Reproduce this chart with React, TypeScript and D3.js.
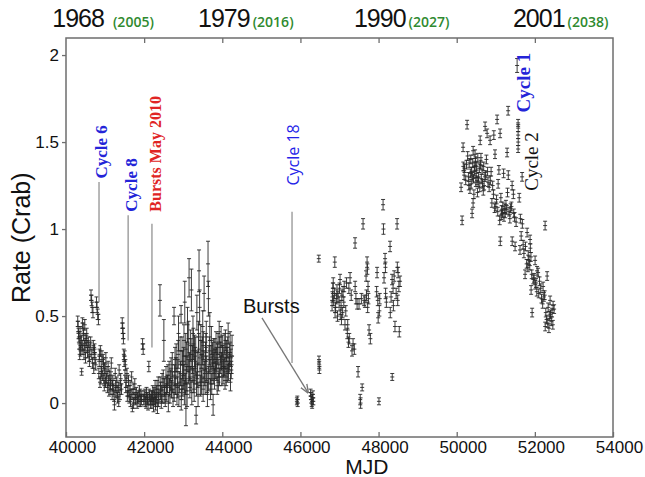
import * as d3 from "d3";
import React, { useEffect, useRef } from "react";

// [MJD, rate (Crab), error]
const early: number[][] = [
  [40300,0.47,0.03],[40310,0.44,0.03],[40320,0.40,0.03],[40330,0.38,0.03],[40340,0.34,0.03],[40350,0.28,0.03],[40360,0.41,0.03],[40370,0.30,0.03],[40380,0.35,0.03],[40390,0.36,0.03],[40400,0.18,0.02],[40410,0.31,0.03],[40420,0.46,0.03],[40430,0.33,0.03],[40440,0.43,0.03],[40450,0.39,0.03],[40460,0.28,0.03],[40470,0.33,0.03],[40480,0.45,0.03],[40490,0.37,0.03],[40500,0.26,0.03],[40510,0.32,0.03],[40520,0.36,0.03],[40530,0.40,0.03],[40550,0.29,0.03],[40560,0.33,0.03],[40570,0.35,0.03],[40590,0.27,0.03],[40600,0.24,0.03],[40610,0.31,0.03],[40630,0.35,0.03],
  [40640,0.62,0.03],[40655,0.59,0.03],[40660,0.28,0.03],[40670,0.55,0.03],[40680,0.23,0.03],[40690,0.52,0.03],[40700,0.33,0.03],[40710,0.20,0.03],[40720,0.29,0.03],[40730,0.31,0.03],[40740,0.26,0.03],[40760,0.22,0.03],[40780,0.58,0.03],[40795,0.55,0.03],[40810,0.51,0.03],[40830,0.48,0.03],[40840,0.17,0.03],[40850,0.24,0.03],[40860,0.28,0.03],[40870,0.12,0.03],[40880,0.30,0.03],[40890,0.14,0.03],[40900,0.21,0.03],[40910,0.18,0.03],[40920,0.27,0.03],[40940,0.16,0.03],[40950,0.25,0.03],[40960,0.23,0.03],[40970,0.14,0.03],[40980,0.10,0.03],[40990,0.20,0.03],
  [41000,0.19,0.03],[41010,0.12,0.03],[41020,0.26,0.03],[41040,0.14,0.03],[41050,0.18,0.03],[41060,0.09,0.03],[41080,0.21,0.03],[41090,0.13,0.03],[41100,0.07,0.03],[41120,0.16,0.03],[41130,0.08,0.03],[41140,0.11,0.03],[41150,0.15,0.03],[41160,0.23,0.03],[41180,0.05,0.03],[41190,0.10,0.03],[41200,0.13,0.03],[41220,0.08,0.03],[41230,0.04,0.03],[41240,-0.01,0.03],[41260,0.17,0.03],[41270,0.10,0.03],[41280,0.06,0.03],[41300,0.12,0.03],[41310,0.07,0.03],[41320,0.03,0.03],[41340,0.09,0.03],[41350,0.01,0.03],[41360,0.19,0.03],[41380,0.05,0.03],[41390,0.10,0.03],[41400,0.14,0.03],[41420,0.08,0.03],
  [41440,0.46,0.03],[41450,0.43,0.03],[41460,0.40,0.03],[41470,0.37,0.03],[41480,0.28,0.03],[41490,0.24,0.03],[41500,0.27,0.03],[41510,0.16,0.03],[41520,0.22,0.03],[41530,0.09,0.03],[41540,0.12,0.03],[41560,0.17,0.03],[41570,0.04,0.03],[41580,0.07,0.03],[41600,0.13,0.03],[41610,0.07,0.03],[41620,0.03,0.03],[41640,0.10,0.03],[41650,0.01,0.03],[41660,0.05,0.03],[41680,0.15,0.03],[41690,0.05,0.03],[41700,-0.03,0.02],[41720,0.08,0.03],[41730,0.00,0.03],[41740,0.03,0.03],[41760,0.11,0.03],[41770,0.05,0.03],[41780,0.02,0.03],[41800,0.06,0.03],[41820,0.0,0.03],[41830,0.03,0.03],[41850,0.04,0.03],[41870,0.01,0.03],[41880,0.07,0.03],[41900,0.05,0.03],[41910,0.01,0.03],[41930,0.02,0.03],[41940,0.04,0.03],[41960,0.34,0.03],[41975,0.31,0.03],[41990,0.02,0.03],
  [42000,0.04,0.03],[42020,0.05,0.03],[42030,0.01,0.03],[42050,0.0,0.03],[42060,0.06,0.03],[42080,0.03,0.03],[42090,0.02,0.03],[42100,-0.01,0.03],[42120,0.21,0.03],[42130,0.05,0.03],[42140,0.04,0.03],[42160,0.00,0.03],[42170,0.02,0.03],[42185,0.04,0.03],
  [42200,0.01,0.04],[42210,0.03,0.04],[42220,0.06,0.04],[42240,-0.01,0.04],[42250,0.05,0.04],[42260,0.03,0.04],[42280,0.08,0.05],[42290,0.0,0.04],[42300,0.02,0.04],[42320,0.05,0.05],[42330,0.08,0.05],[42340,-0.02,0.04],[42360,0.10,0.05],[42370,0.02,0.04],[42380,0.04,0.04],[42405,0.59,0.09],[42410,0.10,0.05],[42420,0.07,0.05],[42440,0.01,0.04],[42450,0.05,0.05],[42460,0.12,0.05],[42480,0.04,0.04],[42490,0.14,0.05],[42505,0.36,0.12],[42520,0.09,0.05],[42530,0.05,0.05],[42540,0.02,0.04],[42560,0.15,0.06],[42570,0.10,0.05],[42580,0.06,0.05],[42600,0.11,0.05],[42610,0.16,0.06],[42620,0.0,0.05],[42640,0.18,0.06],[42650,0.09,0.05],[42660,0.05,0.05],[42680,0.13,0.06],[42690,0.20,0.06],[42700,0.08,0.05],[42720,0.22,0.07],[42730,0.12,0.06],[42740,0.03,0.05],[42765,0.50,0.05],[42770,0.06,0.05],[42780,0.16,0.06],[42790,0.25,0.07],
  [42800,0.10,0.05],[42810,0.20,0.06],[42820,0.26,0.08],[42840,0.05,0.06],[42850,0.09,0.06],[42860,0.18,0.07],[42870,0.28,0.08],[42880,0.40,0.10],[42890,0.04,0.06],[42900,0.12,0.06],[42920,0.30,0.08],[42930,0.17,0.07],[42945,0.51,0.05],[42950,0.02,0.06],[42960,0.08,0.06],[42970,0.30,0.08],[42980,0.22,0.08],[42990,0.10,0.06],[43000,0.15,0.07],[43010,0.24,0.08],[43020,0.36,0.09],[43030,0.06,0.07],[43040,0.58,0.12],[43045,0.19,0.08],[43055,0.11,0.06],[43065,0.31,0.09],[43070,-0.03,0.10],[43080,0.14,0.07],[43090,0.27,0.08],[43100,0.05,0.07],[43110,0.45,0.10],[43120,0.26,0.08],[43130,0.18,0.07],[43140,0.37,0.10],[43150,0.72,0.11],[43160,0.21,0.08],[43170,0.09,0.06],[43180,0.14,0.07],[43190,0.33,0.09],[43200,0.28,0.09],[43210,0.65,0.12],[43220,0.06,0.07],[43230,0.20,0.08],[43240,0.25,0.08],[43250,0.40,0.10],[43260,0.34,0.09],[43270,0.13,0.07],[43280,0.08,0.07],[43290,0.30,0.09],[43300,0.19,0.08],[43310,0.24,0.08],[43320,0.29,0.09],[43330,-0.07,0.05],[43340,0.11,0.07],[43350,0.52,0.10],[43360,0.22,0.08],[43370,0.16,0.07],[43380,0.05,0.07],[43390,0.38,0.09],[43400,0.31,0.09],[43405,0.76,0.12],[43420,0.55,0.10],[43430,0.18,0.08],[43440,0.10,0.06],[43450,0.36,0.09],[43460,0.28,0.08],[43470,0.12,0.07],[43480,0.20,0.08],[43490,0.30,0.08],[43500,0.44,0.09],[43510,0.08,0.07],[43515,0.33,0.08],[43530,0.22,0.08],[43535,0.63,0.10],[43550,0.17,0.07],[43560,0.12,0.07],[43570,0.27,0.08],[43580,0.32,0.08],[43590,0.38,0.09],[43600,0.20,0.07],[43610,0.12,0.06],[43620,0.05,0.07],[43635,0.80,0.13],[43645,0.60,0.10],[43650,0.14,0.07],[43660,0.25,0.08],[43670,0.30,0.08],[43680,0.44,0.08],[43690,0.18,0.07],[43700,0.08,0.06],[43710,0.26,0.07],[43720,0.36,0.08],[43730,0.11,0.06],[43740,0.20,0.07],[43750,0.28,0.07],[43765,-0.01,0.06],[43770,0.17,0.06],[43780,0.30,0.07],[43790,0.23,0.06],
  [43800,0.14,0.06],[43810,0.31,0.06],[43820,0.25,0.06],[43830,0.19,0.05],[43840,0.35,0.06],[43850,0.26,0.06],[43860,0.18,0.05],[43870,0.10,0.05],[43880,0.28,0.06],[43890,0.34,0.06],[43900,0.12,0.05],[43910,0.20,0.05],[43920,0.41,0.06],[43930,0.15,0.05],[43935,0.32,0.06],[43950,0.22,0.05],[43960,0.29,0.06],[43970,0.38,0.06],[43980,0.24,0.05],[43990,0.15,0.05],[44000,0.33,0.06],[44010,0.27,0.06],[44020,0.16,0.05],[44030,0.20,0.05],[44040,0.26,0.06],[44050,0.34,0.06],[44060,0.21,0.05],[44070,0.13,0.05],[44080,0.36,0.06],[44090,0.24,0.05],[44100,0.15,0.05],[44110,0.30,0.06],[44120,0.26,0.06],[44130,0.17,0.05],[44140,0.32,0.06],[44150,0.40,0.06],[44160,0.18,0.05],[44170,0.22,0.05],[44180,0.24,0.05],[44190,0.28,0.06],[44200,0.35,0.06],[44210,0.12,0.05],[44220,0.26,0.05],[44230,0.19,0.05],[44240,0.22,0.05],[44250,0.33,0.06],
];

const middle: number[][] = [
  [45910,0.01,0.02],[45920,0.02,0.02],[45930,0.00,0.02],
  [46260,0.06,0.02],[46270,0.04,0.02],[46280,0.02,0.02],[46290,0.00,0.02],[46300,-0.01,0.02],[46310,0.03,0.02],[46320,0.05,0.02],[46330,0.01,0.02],
  [46470,0.83,0.02],[46475,0.25,0.02],[46480,0.22,0.02],[46485,0.19,0.02],
  [46810,0.56,0.03],[46820,0.61,0.03],[46830,0.66,0.03],[46840,0.69,0.03],[46850,0.59,0.03],[46870,0.63,0.03],[46880,0.81,0.03],[46886,0.52,0.03],[46900,0.55,0.03],[46920,0.60,0.03],[46936,0.65,0.03],[46950,0.50,0.03],[46960,0.61,0.03],[46990,0.58,0.03],[47000,0.66,0.03],[47014,0.71,0.03],[47020,0.51,0.03],[47040,0.56,0.03],[47050,0.48,0.03],[47060,0.62,0.03],[47080,0.52,0.03],[47090,0.64,0.03],[47110,0.58,0.03],[47120,0.67,0.03],[47140,0.45,0.03],[47160,0.53,0.03],[47180,0.69,0.03],[47200,0.40,0.03],[47210,0.45,0.03],[47230,0.35,0.03],[47240,0.66,0.03],[47250,0.37,0.03],[47270,0.72,0.03],[47300,0.62,0.03],[47320,0.30,0.03],[47347,0.34,0.03],[47380,0.31,0.03],[47398,0.92,0.03],[47400,0.67,0.03],[47420,0.60,0.03],[47450,0.57,0.03],[47475,0.18,0.03],[47500,0.57,0.03],
  [47530,0.02,0.03],[47540,0.00,0.03],[47560,0.60,0.03],[47580,0.09,0.02],[47603,1.03,0.03],[47630,0.59,0.03],[47650,0.58,0.03],[47680,0.73,0.03],[47690,0.62,0.03],[47706,0.81,0.03],[47715,0.77,0.03],[47720,0.55,0.03],[47730,0.67,0.03],[47740,0.60,0.03],[47757,0.42,0.03],[47790,0.37,0.03],
  [47950,0.64,0.03],[47962,0.75,0.03],[47980,0.59,0.03],[47990,0.49,0.03],[48010,0.01,0.02],[48020,0.53,0.03],[48030,0.60,0.03],[48115,1.14,0.03],[48125,1.00,0.03],[48140,0.72,0.03],[48166,0.83,0.03],[48175,0.78,0.03],[48180,0.63,0.03],[48200,0.58,0.03],[48294,0.90,0.03],[48300,0.52,0.03],[48320,0.61,0.03],[48346,0.71,0.03],[48350,0.15,0.02],[48371,0.66,0.03],[48380,0.56,0.03],[48400,0.73,0.03],[48420,0.44,0.03],[48450,0.63,0.03],[48474,1.03,0.03],[48480,0.78,0.03],[48490,0.59,0.03],[48500,0.75,0.03],[48520,0.67,0.03],[48530,0.41,0.03],[48550,0.70,0.03],
];

const late: number[][] = [
  [50112,1.24,0.025],[50138,1.05,0.025],[50163,1.47,0.025],[50170,1.36,0.025],[50190,1.31,0.025],[50200,1.35,0.025],[50230,1.28,0.025],[50250,1.37,0.025],[50266,1.60,0.025],[50280,1.42,0.025],[50300,1.30,0.025],[50310,1.25,0.025],[50320,1.38,0.025],[50340,1.23,0.025],[50350,1.32,0.025],[50360,1.40,0.025],[50370,1.26,0.025],[50380,1.33,0.025],[50394,1.09,0.025],[50400,1.30,0.025],[50410,1.38,0.025],[50419,1.15,0.025],[50420,1.45,0.025],[50430,1.29,0.025],[50440,1.20,0.025],[50450,1.36,0.025],[50460,1.33,0.025],[50470,1.43,0.025],[50480,1.39,0.025],[50490,1.27,0.025],[50500,1.32,0.025],[50510,1.36,0.025],[50520,1.28,0.025],[50530,1.21,0.025],[50540,1.41,0.025],[50550,1.27,0.025],[50560,1.30,0.025],[50580,1.35,0.025],[50590,1.24,0.025],[50600,1.51,0.025],[50610,1.37,0.025],[50620,1.41,0.025],[50630,1.29,0.025],[50650,1.34,0.025],[50660,1.26,0.025],[50680,1.22,0.025],[50690,1.36,0.025],[50700,1.25,0.025],[50720,1.30,0.025],[50726,1.59,0.025],[50740,1.31,0.025],[50760,1.40,0.025],[50778,1.55,0.025],[50790,1.33,0.025],[50800,1.27,0.025],[50830,1.24,0.025],[50854,1.51,0.025],[50860,1.28,0.025],[50880,1.33,0.025],[50900,1.15,0.025],[50920,1.25,0.025],[50940,1.20,0.025],[50950,1.54,0.025],[50970,1.12,0.025],[50980,1.43,0.025],[51000,1.13,0.025],
  [51020,1.17,0.025],[51034,1.63,0.025],[51050,1.10,0.025],[51060,1.26,0.025],[51080,1.34,0.025],[51100,1.05,0.025],[51110,1.55,0.025],[51115,0.93,0.025],[51130,1.18,0.025],[51140,1.08,0.025],[51150,1.11,0.025],[51170,1.09,0.025],[51180,1.13,0.025],[51200,1.32,0.025],[51210,1.07,0.025],[51230,1.12,0.025],[51240,1.09,0.025],[51260,1.14,0.025],[51280,1.11,0.025],[51290,1.44,0.025],[51300,1.21,0.025],[51316,1.68,0.025],[51320,1.31,0.025],[51340,1.10,0.025],[51360,1.06,0.025],[51380,1.12,0.025],[51400,1.13,0.025],[51418,1.25,0.025],[51420,0.93,0.025],[51450,1.20,0.025],[51460,1.09,0.025],[51480,1.07,0.025],[51494,0.90,0.025],[51520,1.04,0.025],
  [51546,1.94,0.04],[51571,1.61,0.02],[51574,1.58,0.02],[51571,1.54,0.02],[51574,1.50,0.02],[51571,1.46,0.02],[51600,1.18,0.025],[51620,0.88,0.025],[51630,1.06,0.025],[51650,0.96,0.025],[51674,1.30,0.025],[51680,1.03,0.025],[51700,0.91,0.025],[51720,0.86,0.025],[51750,0.74,0.025],[51760,0.90,0.025],[51790,0.80,0.025],[51802,0.98,0.025],[51820,0.78,0.025],[51830,0.85,0.025],[51850,0.82,0.025],[51870,0.79,0.025],[51878,0.94,0.025],[51885,0.89,0.025],[51900,0.84,0.025],[51904,0.65,0.025],[51920,0.74,0.025],[51930,0.52,0.025],[51960,0.71,0.025],[51980,0.72,0.025],[52006,0.82,0.025],[52010,0.68,0.025],[52030,0.69,0.025],[52050,0.64,0.025],[52057,0.76,0.025],[52083,0.75,0.025],[52100,0.63,0.025],[52120,0.70,0.025],[52150,0.66,0.025],[52170,0.60,0.025],[52200,0.57,0.025],[52211,0.67,0.025],[52230,0.61,0.025],[52250,0.62,0.025],[52262,1.02,0.025],[52265,0.44,0.025],[52280,0.52,0.025],[52300,0.48,0.025],[52314,0.73,0.025],[52330,0.46,0.025],[52340,0.55,0.025],[52360,0.43,0.025],[52370,0.50,0.025],[52390,0.59,0.025],[52400,0.51,0.025],[52420,0.47,0.025],[52440,0.52,0.025],[52460,0.45,0.025],[52467,0.56,0.025],[52492,0.54,0.025],
];

const xTicks = [40000, 42000, 44000, 46000, 48000, 50000, 52000, 54000];
const yTicks = [0, 0.5, 1, 1.5, 2];
const years = ["1968", "1979", "1990", "2001"];
const yearsPlus37 = ["(2005)", "(2016)", "(2027)", "(2038)"];
const yearStartMjd = [39650, 43380, 47370, 51440];

const width = 645;
const height = 477;

const App = () => {
  const svgRef = useRef<HTMLDivElement>(null);

  useEffect(() => {
    const xScale = d3.scaleLinear().domain([40000, 54000]).range([66, 613]);
    const yScale = d3.scaleLinear().domain([-0.195, 2.098]).range([437, 38]);
    const sans = "'Liberation Sans', Arial, Helvetica, sans-serif";
    const serif = "'Liberation Serif', 'Times New Roman', serif";

    const svg = d3.create("svg")
      .attr("width", width)
      .attr("height", height)
      .style("display", "block")
      .style("background", "#fff");

    // arrow head for "Bursts"
    svg.append("defs").append("marker")
      .attr("id", "arr")
      .attr("viewBox", "0 0 10 10")
      .attr("refX", 9).attr("refY", 5)
      .attr("markerWidth", 7).attr("markerHeight", 7)
      .attr("orient", "auto")
      .append("path")
      .attr("d", "M0,1 L10,5 L0,9")
      .attr("fill", "none")
      .attr("stroke", "#777")
      .attr("stroke-width", 1.5);

    // error bars
    const pts = svg.append("g")
      .attr("stroke", "#111")
      .attr("stroke-width", 0.9)
      .attr("opacity", 0.9);
    [early, middle, late].forEach(series => {
      series.forEach(d => {
        const x = xScale(d[0]);
        const y = yScale(d[1]);
        const yLo = yScale(d[1] - d[2]);
        const yHi = yScale(d[1] + d[2]);
        pts.append("path")
          .attr("fill", "none")
          .attr("d", `M${x},${yLo}V${yHi}M${x - 2},${yLo}H${x + 2}M${x - 2},${yHi}H${x + 2}M${x - 2},${y}H${x + 2}`);
      });
    });

    // frame
    svg.append("rect")
      .attr("x", 66).attr("y", 38)
      .attr("width", 547).attr("height", 399)
      .attr("fill", "none")
      .attr("stroke", "#6e6e6e")
      .attr("stroke-width", 1.5);

    // bottom axis, ticks inward
    const xAxis = svg.append("g").attr("transform", "translate(0,437)")
      .call(d3.axisBottom(xScale).tickValues(xTicks).tickSize(-5).tickFormat(d3.format("d")));
    xAxis.select(".domain").remove();
    xAxis.selectAll("line").attr("stroke", "#6e6e6e").attr("stroke-width", 1.3);
    xAxis.selectAll("text")
      .attr("y", 4).attr("dx", 6)
      .attr("fill", "#111")
      .style("font-family", sans)
      .style("font-size", "17px");

    // top ticks
    const xTop = svg.append("g").attr("transform", "translate(0,38)")
      .call(d3.axisTop(xScale).tickValues(xTicks.slice(1, -1)).tickSize(-5).tickFormat(() => ""));
    xTop.select(".domain").remove();
    xTop.selectAll("line").attr("stroke", "#6e6e6e").attr("stroke-width", 1.3);

    // left axis, ticks outward
    const yAxis = svg.append("g").attr("transform", "translate(66,0)")
      .call(d3.axisLeft(yScale).tickValues(yTicks).tickSize(4).tickPadding(3).tickFormat(d => String(d)));
    yAxis.select(".domain").remove();
    yAxis.selectAll("line").attr("stroke", "#6e6e6e").attr("stroke-width", 1.3);
    yAxis.selectAll("text")
      .attr("fill", "#111")
      .style("font-family", sans)
      .style("font-size", "17px");

    // axis titles
    svg.append("text")
      .attr("transform", `translate(30,${yScale(0.95)}) rotate(-90)`)
      .attr("text-anchor", "middle")
      .style("font-family", sans)
      .style("font-size", "25px")
      .attr("fill", "#111")
      .text("Rate (Crab)");

    svg.append("text")
      .attr("x", xScale(47700)).attr("y", 474)
      .attr("text-anchor", "middle")
      .style("font-family", sans)
      .style("font-size", "21px")
      .attr("fill", "#111")
      .text("MJD");

    // year labels at the top
    years.forEach((yr, i) => {
      const t = svg.append("text")
        .attr("x", xScale(yearStartMjd[i])).attr("y", 27)
        .style("font-family", sans);
      t.append("tspan")
        .style("font-size", "25px")
        .style("letter-spacing", "-1px")
        .attr("fill", "#111")
        .text(yr);
      t.append("tspan")
        .attr("dx", i === 0 ? 9 : 3)
        .style("font-size", "14px")
        .style("font-family", "'Open Sans', sans-serif")
        .style("font-weight", 600)
        .attr("fill", "#2f8a2f")
        .text(yearsPlus37[i]);
    });

    // vertical marker lines with rotated labels
    const marks = [
      { label: "Cycle 6", mjd: 40845, top: 1.27, bottom: 0.58, color: "#2424d8", font: serif, size: 17, weight: 700, tx: 40900, ty: 1.29 },
      { label: "Cycle 8", mjd: 41590, top: 1.08, bottom: 0.36, color: "#2424d8", font: serif, size: 17, weight: 700, tx: 41670, ty: 1.10 },
      { label: "Bursts May 2010", mjd: 42200, top: 1.03, bottom: 0.32, color: "#e02424", font: serif, size: 16, weight: 700, tx: 42280, ty: 1.10 },
      { label: "Cycle 18", mjd: 45785, top: 1.10, bottom: 0.23, color: "#2424e8", font: "'Open Sans', sans-serif", size: 16, weight: 400, tx: 45810, ty: 1.25 },
    ];
    marks.forEach(m => {
      svg.append("line")
        .attr("x1", xScale(m.mjd)).attr("x2", xScale(m.mjd))
        .attr("y1", yScale(m.top)).attr("y2", yScale(m.bottom))
        .attr("stroke", "#8a8a8a")
        .attr("stroke-width", 1.2);
      svg.append("text")
        .attr("transform", `translate(${xScale(m.tx)},${yScale(m.ty)}) rotate(-90)`)
        .attr("dy", "0.35em")
        .style("font-family", m.font)
        .style("font-size", `${m.size}px`)
        .style("font-weight", m.weight)
        .attr("fill", m.color)
        .text(m.label);
    });

    // Cycle 1 / Cycle 2 labels near the late outburst
    svg.append("text")
      .attr("transform", `translate(${xScale(51700)},${yScale(1.67)}) rotate(-90)`)
      .attr("dy", "0.35em")
      .style("font-family", serif)
      .style("font-size", "19px")
      .style("font-weight", 700)
      .attr("fill", "#2424d8")
      .text("Cycle 1");
    svg.append("text")
      .attr("transform", `translate(${xScale(51905)},${yScale(1.22)}) rotate(-90)`)
      .attr("dy", "0.35em")
      .style("font-family", serif)
      .style("font-size", "19px")
      .attr("fill", "#111")
      .text("Cycle 2");

    // Bursts arrow
    svg.append("text")
      .attr("x", xScale(44530)).attr("y", yScale(0.52))
      .style("font-family", sans)
      .style("font-size", "20px")
      .attr("fill", "#111")
      .text("Bursts");
    svg.append("line")
      .attr("x1", xScale(45016)).attr("y1", yScale(0.49))
      .attr("x2", xScale(46194)).attr("y2", yScale(0.06))
      .attr("stroke", "#777")
      .attr("stroke-width", 1.3)
      .attr("marker-end", "url(#arr)");

    if (svgRef.current) {
      svgRef.current.innerHTML = "";
      svgRef.current.appendChild(svg.node()!);
    }
  });

  return <div ref={svgRef} style={{ position: "absolute", left: 0, top: 0 }}></div>;
};

export default App;
